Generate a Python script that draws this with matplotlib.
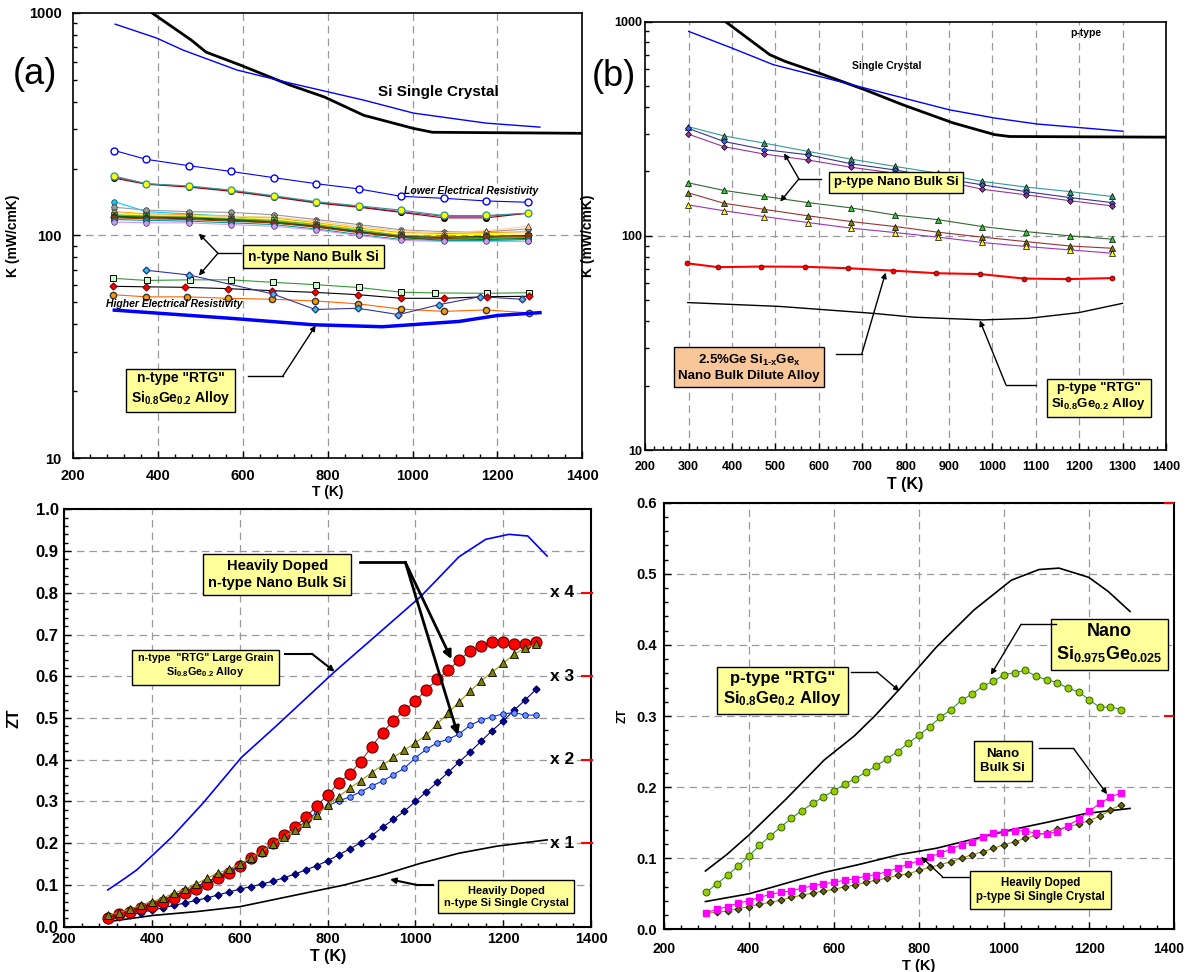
import matplotlib
matplotlib.use('Agg')
import matplotlib.pyplot as plt
import matplotlib.transforms as mtransforms
from matplotlib.ticker import FixedLocator, FixedFormatter, MultipleLocator, LogLocator, NullFormatter

plt.rcParams['font.family'] = 'Liberation Sans'
plt.rcParams['font.weight'] = 'bold'
plt.rcParams['axes.labelweight'] = 'bold'
plt.rcParams['mathtext.fontset'] = 'custom'
plt.rcParams['mathtext.bf'] = 'Liberation Sans:bold'
plt.rcParams['mathtext.rm'] = 'Liberation Sans:bold'
plt.rcParams['mathtext.default'] = 'bf'

# ---------------- panel (a): n-type thermal conductivity ----------------
a_sc_black_T = [387, 479, 514, 595, 712, 793, 885, 1002, 1047, 1400]
a_sc_black_K = [1000, 756, 667, 583, 474, 419, 347, 303, 291, 288]
a_sc_blue_T = [300, 398, 460, 587, 712, 885, 1002, 1173, 1300]
a_sc_blue_K = [891, 771, 681, 554, 484, 406, 355, 320, 307]

a_T = [298, 373, 473, 573, 673, 773, 873, 973, 1073, 1173, 1273]
a_open_K = [241, 220, 206, 194, 182, 171, 162, 150, 147, 143, 141]
a_yel_K = [185, 171, 167, 160, 151, 142, 136, 130, 123, 123, 126]
a_dred_K = [181, 170, 165, 158, 149, 140, 134, 127, 120, 120, 126]
a_mag_K = [183, 171, 166, 159, 150, 141, 135, 128, 122, 122, 126]
a_cluster_K = [
    [142, 128, 125, 122, 116, 110, 104, 98, 96, 95, 94],
    [134, 130, 128, 127, 124, 118, 112, 106, 104, 104, 107],
    [128, 125, 124, 122, 120, 114, 108, 103, 102, 103, 104],
    [127, 124, 123, 122, 121, 116, 110, 105, 103, 105, 110],
    [126, 123, 122, 120, 118, 113, 107, 102, 101, 101, 102],
    [124, 122, 121, 119, 117, 112, 106, 100, 97, 97, 98],
    [123, 122, 121, 118, 116, 111, 105, 100, 99, 99, 100],
    [122, 121, 120, 118, 115, 110, 104, 98, 95, 96, 97],
    [121, 120, 119, 117, 114, 110, 104, 99, 98, 99, 100],
    [120, 119, 118, 116, 114, 109, 103, 98, 97, 98, 99],
    [118, 117, 116, 114, 112, 107, 101, 96, 95, 95, 96],
    [115, 114, 114, 112, 110, 106, 100, 95, 94, 94, 94],
]
a_cluster_col = ['#00CCFF', '#999999', '#FF9900', '#FFCC99', '#FFFF00', '#33CC33',
                 '#999900', '#006600', '#333333', '#993300', '#009999', '#CC99FF']
a_cluster_mk = ['o', 'o', 'x', '^', 'o', 's', '^', 'o', 'D', 's', 'o', 'o']

a_sq_T = [295, 376, 475, 572, 671, 773, 873, 974, 1052, 1175, 1275]
a_sq_K = [64.2, 62.8, 63.2, 63.2, 61.6, 60.1, 58.4, 55.6, 55.2, 55.0, 55.3]
a_rd_T = [295, 373, 464, 566, 669, 771, 872, 974, 1074, 1175, 1275]
a_rd_K = [59.1, 58.8, 58.5, 57.7, 56.5, 55.5, 54.2, 52.2, 52.2, 53.1, 53.3]
a_or_T = [295, 373, 470, 566, 670, 771, 872, 973, 1073, 1174, 1274]
a_or_K = [54.2, 53.0, 53.0, 52.2, 51.7, 50.8, 49.3, 46.7, 45.6, 46.3, 44.9]
a_cy_T = [373, 473, 671, 771, 872, 967, 1063, 1159, 1257]
a_cy_K = [69.8, 66.5, 54.6, 46.5, 47.1, 44.1, 48.9, 53.1, 51.7]
a_rtg_T = [298, 568, 767, 929, 1110, 1200, 1300]
a_rtg_K = [46.2, 42.5, 39.7, 38.9, 41.1, 43.7, 45.0]

# ---------------- panel (b): p-type thermal conductivity ----------------
b_sc_black_T = [385, 487, 522, 601, 706, 794, 909, 1005, 1040, 1400]
b_sc_black_K = [1000, 701, 653, 575, 481, 409, 337, 297, 291, 289]
b_sc_blue_T = [300, 399, 495, 706, 900, 1005, 1102, 1300]
b_sc_blue_K = [901, 754, 630, 490, 388, 355, 333, 308]
b_T = [298, 381, 474, 575, 675, 776, 875, 977, 1077, 1178, 1276]
b_teal_K = [324, 293, 271, 248, 228, 211, 196, 179.5, 169, 161, 152.7]
b_navy_K = [318, 276, 253, 239, 217, 203, 187, 173, 161, 151, 143]
b_purp_K = [299, 261, 241, 226, 209, 196, 183, 165, 155.5, 146, 138]
b_green_K = [177, 163, 153, 143, 135, 125, 119, 110.5, 104.7, 100, 96.5]
b_dred_K = [159, 142, 133, 124, 116.6, 110.5, 104, 98.6, 94, 89.7, 87.5]
b_yel_K = [139.6, 131, 123, 115.4, 108.6, 103.6, 98.6, 93.1, 89.2, 86, 83]
b_ge_T = [295, 368, 467, 567, 668, 771, 871, 972, 1072, 1174, 1275]
b_ge_K = [74.5, 71.4, 71.9, 71.7, 70.6, 68.8, 66.9, 66.3, 63.2, 62.8, 63.5]
b_rtg_T = [298, 511, 723, 820, 978, 1084, 1199, 1300]
b_rtg_K = [48.8, 46.8, 43.5, 41.7, 40.5, 41.2, 43.8, 48.4]

# ---------------- panel (c): n-type ZT ----------------
c_T = [300, 325, 350, 375, 400, 425, 450, 475, 500, 525, 550, 575, 600, 625, 650, 675,
       700, 725, 750, 775, 800, 825, 850, 875, 900, 925, 950, 975, 1000, 1025, 1050,
       1075, 1100, 1125, 1150, 1175, 1200, 1225, 1250, 1275]
c_red = [0.022, 0.030, 0.036, 0.044, 0.050, 0.058, 0.068, 0.080, 0.090, 0.102, 0.116,
         0.129, 0.145, 0.164, 0.182, 0.200, 0.220, 0.238, 0.262, 0.289, 0.316, 0.344,
         0.366, 0.395, 0.431, 0.465, 0.494, 0.518, 0.541, 0.567, 0.593, 0.615, 0.639,
         0.661, 0.673, 0.683, 0.683, 0.677, 0.677, 0.683]
c_tri = [0.028, 0.034, 0.042, 0.052, 0.060, 0.069, 0.080, 0.090, 0.102, 0.116, 0.128,
         0.138, 0.150, 0.165, 0.180, 0.198, 0.214, 0.232, 0.249, 0.268, 0.292, 0.311,
         0.332, 0.349, 0.369, 0.387, 0.406, 0.423, 0.441, 0.459, 0.486, 0.513, 0.539,
         0.565, 0.589, 0.610, 0.631, 0.653, 0.667, 0.677]
c_blue = [0.025, 0.032, 0.040, 0.048, 0.056, 0.065, 0.075, 0.085, 0.096, 0.108, 0.120,
          0.133, 0.146, 0.162, 0.178, 0.196, 0.214, 0.233, 0.252, 0.274, 0.290, 0.301,
          0.311, 0.323, 0.337, 0.349, 0.364, 0.380, 0.405, 0.425, 0.441, 0.449, 0.462,
          0.483, 0.495, 0.503, 0.510, 0.513, 0.507, 0.507]
c_navy = [0.016, 0.024, 0.028, 0.034, 0.040, 0.045, 0.051, 0.057, 0.063, 0.069, 0.076,
          0.083, 0.090, 0.096, 0.102, 0.109, 0.117, 0.126, 0.136, 0.146, 0.158, 0.172,
          0.186, 0.201, 0.218, 0.238, 0.257, 0.277, 0.300, 0.323, 0.346, 0.370, 0.395,
          0.419, 0.445, 0.470, 0.493, 0.519, 0.543, 0.569]
c_rtg_T = [299, 341, 365, 402, 446, 516, 603, 685, 816, 925, 1012, 1099, 1160, 1213, 1256, 1300]
c_rtg_ZT = [0.088, 0.118, 0.136, 0.172, 0.216, 0.296, 0.405, 0.483, 0.611, 0.711, 0.791,
            0.886, 0.928, 0.940, 0.936, 0.888]
c_sc_T = [299, 402, 500, 600, 751, 838, 925, 1012, 1099, 1186, 1300]
c_sc_ZT = [0.012, 0.027, 0.036, 0.048, 0.081, 0.100, 0.124, 0.152, 0.176, 0.193, 0.208]
c_mult_labels = ['x 4', 'x 3', 'x 2', 'x 1']
c_mult_ZT = [0.8, 0.6, 0.4, 0.2]

# ---------------- panel (d): p-type ZT ----------------
d_T = c_T
d_green = [0.052, 0.064, 0.076, 0.089, 0.103, 0.118, 0.131, 0.144, 0.156, 0.167, 0.177,
           0.186, 0.195, 0.204, 0.212, 0.221, 0.230, 0.240, 0.250, 0.262, 0.273, 0.285,
           0.298, 0.309, 0.322, 0.331, 0.342, 0.349, 0.358, 0.361, 0.364, 0.356, 0.351,
           0.347, 0.339, 0.334, 0.323, 0.312, 0.313, 0.309]
d_mag = [0.0235, 0.028, 0.032, 0.037, 0.040, 0.045, 0.049, 0.052, 0.054, 0.058, 0.061,
         0.064, 0.066, 0.069, 0.071, 0.075, 0.077, 0.081, 0.086, 0.092, 0.096, 0.102,
         0.107, 0.113, 0.119, 0.123, 0.130, 0.136, 0.1375, 0.1385, 0.1385, 0.135, 0.134,
         0.1375, 0.1455, 0.155, 0.166, 0.177, 0.186, 0.192]
d_dia = [0.0225, 0.024, 0.026, 0.029, 0.032, 0.035, 0.038, 0.041, 0.045, 0.048, 0.051,
         0.054, 0.056, 0.060, 0.062, 0.066, 0.069, 0.072, 0.076, 0.078, 0.083, 0.087,
         0.091, 0.095, 0.100, 0.105, 0.109, 0.114, 0.119, 0.123, 0.128, 0.132, 0.136,
         0.141, 0.144, 0.148, 0.153, 0.159, 0.168, 0.175]
d_rtg_T = [298, 348, 401, 489, 577, 648, 696, 753, 841, 929, 1017, 1082, 1129, 1199, 1245, 1296]
d_rtg_ZT = [0.082, 0.105, 0.133, 0.184, 0.238, 0.272, 0.300, 0.337, 0.397, 0.449, 0.491,
            0.506, 0.508, 0.495, 0.475, 0.447]
d_sc_T = [298, 401, 489, 577, 665, 753, 841, 929, 1017, 1105, 1193, 1296]
d_sc_ZT = [0.039, 0.050, 0.065, 0.080, 0.092, 0.105, 0.114, 0.127, 0.140, 0.151, 0.163, 0.170]

W, H = 1188, 972
fig = plt.figure(figsize=(W / 100, H / 100), dpi=100)


def px_axes(l, t, r, b):
    return fig.add_axes([l / W, 1 - b / H, (r - l) / W, (b - t) / H])


YEL = '#FFFF99'
GRID = dict(color='#9a9a9a', ls=(0, (6, 4)), lw=0.9)


def box(ax, x, y, s, fs, fc=YEL, pad=0.35):
    ax.text(x, y, s, ha='center', va='center', fontsize=fs, linespacing=1.25, zorder=6,
            bbox=dict(boxstyle='square,pad=%s' % pad, fc=fc, ec='k', lw=1))


def callout(ax, start, knee, tips, lw=1.0, ms=8):
    ax.plot([start[0], knee[0]], [start[1], knee[1]], color='k', lw=lw, zorder=6)
    for tip in tips:
        ax.annotate('', xy=tip, xytext=knee, zorder=6,
                    arrowprops=dict(arrowstyle='-|>', color='k', lw=lw, mutation_scale=ms,
                                    shrinkA=0, shrinkB=0))


def style_axes(ax, lw):
    for sp in ax.spines.values():
        sp.set_linewidth(lw)
    ax.tick_params(which='both', direction='in', width=1)
    ax.tick_params(which='major', length=5)
    ax.tick_params(which='minor', length=3)


def log_y(ax):
    ax.set_yscale('log')
    ax.set_ylim(10, 1000)
    ax.yaxis.set_major_locator(FixedLocator([10, 100, 1000]))
    ax.yaxis.set_major_formatter(FixedFormatter(['10', '100', '1000']))
    ax.yaxis.set_minor_locator(LogLocator(subs=range(2, 10)))
    ax.yaxis.set_minor_formatter(NullFormatter())
    ax.axhline(100, **GRID, zorder=0)


# ======================= (a) =======================
ax = px_axes(72.7, 13, 582.4, 458)
style_axes(ax, 1.2)
log_y(ax)
ax.set_xlim(200, 1400)
ax.xaxis.set_major_locator(MultipleLocator(200))
ax.xaxis.set_minor_locator(MultipleLocator(40))
for t in range(400, 1400, 200):
    ax.axvline(t, **GRID, zorder=0)
ax.tick_params(axis='x', labelsize=10.5, pad=8)
ax.tick_params(axis='y', labelsize=10.5, pad=8)
ax.set_xlabel('T (K)', fontsize=10, labelpad=1)
ax.set_ylabel('K (mW/cmK)', fontsize=10)
ax.yaxis.set_label_coords(-0.104, 0.5)

ax.plot(a_sc_black_T, a_sc_black_K, color='k', lw=2)
ax.plot(a_sc_blue_T, a_sc_blue_K, color='#0000FF', lw=1)
ax.plot(a_T, a_open_K, color='#0000FF', lw=0.8, marker='o', ms=5, mfc='white', mec='#0000FF')
ax.plot(a_T, a_mag_K, color='#993399', lw=0.8, marker='D', ms=3, mfc='#993399', mec='k')
ax.plot(a_T, a_dred_K, color='#990000', lw=0.8, marker='o', ms=4, mfc='#990000', mec='k')
ax.plot(a_T, a_yel_K, color='#339999', lw=0.8, marker='o', ms=5, mfc='#FFFF00', mec='#339999')
for ys, c, m in zip(a_cluster_K, a_cluster_col, a_cluster_mk):
    ax.plot(a_T, ys, color=c, lw=0.8, marker=m, ms=4, mfc=c, mec='#333333', mew=0.5)
ax.plot(a_sq_T, a_sq_K, color='#339933', lw=0.8, marker='s', ms=5, mfc='#CCFFCC', mec='k', mew=0.7)
ax.plot(a_rd_T, a_rd_K, color='k', lw=0.8, marker='D', ms=3.5, mfc='red', mec='#990000')
ax.plot(a_or_T, a_or_K, color='#FF6600', lw=0.8, marker='o', ms=4.5, mfc='#FF9900', mec='#333333')
ax.plot(a_cy_T, a_cy_K, color='#333399', lw=0.8, marker='D', ms=3.5, mfc='#33CCCC', mec='#333399')
ax.plot(a_rtg_T, a_rtg_K, color='#0000FF', lw=2.5)

ax.text(1060, 440, 'Si Single Crystal', ha='center', va='center', fontsize=11)
ax.text(1138, 158, 'Lower Electrical Resistivity', ha='center', va='center', fontsize=7.5, style='italic')
ax.text(439, 49.3, 'Higher Electrical Resistivity', ha='center', va='center', fontsize=7.5, style='italic')
box(ax, 767, 80.4, 'n-type Nano Bulk Si', 10)
callout(ax, (596, 83.2), (542, 83.2), [(497, 102), (497, 66.1)])
box(ax, 454, 20.4, 'n-type "RTG"\nSi$_{0.8}$Ge$_{0.2}$ Alloy', 10)
callout(ax, (612, 23.4), (695, 23.4), [(772, 39.4)])
fig.text(35 / W, 1 - 75 / H, '(a)', fontsize=26, fontweight='normal', ha='center', va='center')

# ======================= (b) =======================
ax = px_axes(645.3, 21.7, 1165.9, 450)
style_axes(ax, 1.2)
log_y(ax)
ax.set_xlim(200, 1400)
ax.xaxis.set_major_locator(MultipleLocator(100))
ax.xaxis.set_minor_locator(MultipleLocator(20))
for t in range(300, 1400, 100):
    ax.axvline(t, **GRID, zorder=0)
ax.tick_params(axis='x', labelsize=9, pad=8)
ax.tick_params(axis='y', labelsize=9, pad=2)
ax.set_xlabel('T (K)', fontsize=11.5, labelpad=3)
ax.set_ylabel('K (mW/cmK)', fontsize=10)
ax.yaxis.set_label_coords(-0.097, 0.5)

ax.plot(b_sc_black_T, b_sc_black_K, color='k', lw=2)
ax.plot(b_sc_blue_T, b_sc_blue_K, color='#0000FF', lw=1)
ax.plot(b_T, b_teal_K, color='#339999', lw=0.8, marker='^', ms=4.5, mfc='#339966', mec='k', mew=0.5)
ax.plot(b_T, b_navy_K, color='#333399', lw=0.8, marker='D', ms=3, mfc='#3366FF', mec='k', mew=0.5)
ax.plot(b_T, b_purp_K, color='#993399', lw=0.8, marker='D', ms=3, mfc='#993399', mec='k', mew=0.5)
ax.plot(b_T, b_green_K, color='#336633', lw=0.8, marker='^', ms=4.5, mfc='#33CC33', mec='k', mew=0.5)
ax.plot(b_T, b_dred_K, color='#993333', lw=0.8, marker='^', ms=4.5, mfc='#808000', mec='k', mew=0.5)
ax.plot(b_T, b_yel_K, color='#9933CC', lw=0.8, marker='^', ms=4.5, mfc='#FFFF00', mec='k', mew=0.5)
ax.plot(b_ge_T, b_ge_K, color='#FF0000', lw=1.5, marker='o', ms=3.5, mfc='red', mec='#660000', mew=0.6)
ax.plot(b_rtg_T, b_rtg_K, color='k', lw=1)

ax.text(756, 623, 'Single Crystal', ha='center', va='center', fontsize=7.5)
ax.text(1216, 883, 'p-type', ha='center', va='center', fontsize=7.5)
box(ax, 779, 177.8, 'p-type Nano Bulk Si', 9.5)
callout(ax, (604, 184.5), (554, 184.5), [(520, 243), (511, 144.5)])
box(ax, 439, 24.3, '2.5%Ge Si$_{1\\text{-}x}$Ge$_{x}$\nNano Bulk Dilute Alloy', 9.5, fc='#F9C69A')
callout(ax, (640, 28.1), (699, 28.1), [(754, 67.4)])
box(ax, 1245, 17.7, 'p-type "RTG"\nSi$_{0.8}$Ge$_{0.2}$ Alloy', 9.5)
callout(ax, (1100, 20.2), (1031, 20.2), [(971, 40.3)])
fig.text(614 / W, 1 - 76 / H, '(b)', fontsize=26, fontweight='normal', ha='center', va='center')

# ======================= (c) =======================
ax = px_axes(64.3, 509.3, 591, 926.7)
style_axes(ax, 1.5)
ax.set_xlim(200, 1400)
ax.set_ylim(0, 1.0)
ax.xaxis.set_major_locator(MultipleLocator(200))
ax.xaxis.set_minor_locator(MultipleLocator(40))
ax.yaxis.set_major_locator(MultipleLocator(0.1))
ax.yaxis.set_minor_locator(MultipleLocator(0.02))
ax.yaxis.set_major_formatter(plt.FormatStrFormatter('%.1f'))
ax.grid(True, which='major', **GRID, zorder=0)
ax.tick_params(axis='x', labelsize=10.5, pad=4)
ax.tick_params(axis='y', labelsize=12, pad=4)
ax.set_xlabel('T (K)', fontsize=11.5, labelpad=2)
ax.set_ylabel('ZT', fontsize=11.5)
ax.yaxis.set_label_coords(-0.082, 0.5)

ax.plot(c_rtg_T, c_rtg_ZT, color='#0000FF', lw=1.2)
ax.plot(c_sc_T, c_sc_ZT, color='k', lw=1.2)
ax.plot(c_T, c_navy, color='#000080', lw=0.8, marker='D', ms=3.5, mfc='#000099', mec='#000066')
ax.plot(c_T, c_blue, color='#0033FF', lw=0.8, marker='o', ms=4, mfc='#6699FF', mec='#000099', mew=0.6)
ax.plot(c_T, c_red, color='#993333', lw=0.8, marker='o', ms=8, mfc='red', mec='#660000', mew=0.8)
ax.plot(c_T, c_tri, color='#999900', lw=0.8, marker='^', ms=5.5, mfc='#808000', mec='k', mew=0.6)

for lab, z in zip(c_mult_labels, c_mult_ZT):
    ax.text(1335, z, lab, ha='center', va='center', fontsize=12.5)
    ax.plot([1380, 1403], [z, z], color='red', lw=1.5, clip_on=False, zorder=7)

box(ax, 685, 0.844, 'Heavily Doped\nn-type Nano Bulk Si', 10.5)
callout(ax, (873, 0.873), (977, 0.873), [(1082, 0.641), (1097, 0.459)], lw=2, ms=12)
box(ax, 522, 0.624, 'n-type  "RTG" Large Grain\nSi$_{0.8}$Ge$_{0.2}$ Alloy', 7.8, pad=0.5)
callout(ax, (703, 0.654), (764, 0.654), [(816, 0.611)], lw=1.5)
box(ax, 1207, 0.072, 'Heavily Doped\nn-type Si Single Crystal', 8, pad=0.5)
callout(ax, (1041, 0.100), (1003, 0.100), [(942, 0.1135)], lw=1.5)

# ======================= (d) =======================
ax = px_axes(663.7, 502.7, 1174.3, 929.3)
style_axes(ax, 1.5)
ax.set_xlim(200, 1400)
ax.set_ylim(0, 0.6)
ax.xaxis.set_major_locator(MultipleLocator(200))
ax.xaxis.set_minor_locator(MultipleLocator(40))
ax.yaxis.set_major_locator(MultipleLocator(0.1))
ax.yaxis.set_minor_locator(MultipleLocator(0.02))
ax.yaxis.set_major_formatter(plt.FormatStrFormatter('%.1f'))
ax.grid(True, which='major', **GRID, zorder=0)
ax.tick_params(axis='x', labelsize=10, pad=9)
ax.tick_params(axis='y', labelsize=10.5, pad=5)
ax.set_xlabel('T (K)', fontsize=10.5, labelpad=2)
ax.set_ylabel('ZT', fontsize=8.5)
ax.yaxis.set_label_coords(-0.069, 0.5)
fig.canvas.draw()
shift = mtransforms.ScaledTranslation(-6 / 100, 0, fig.dpi_scale_trans)
for lab in ax.get_xticklabels():
    if lab.get_text() == '1400':
        lab.set_transform(lab.get_transform() + shift)

ax.plot(d_rtg_T, d_rtg_ZT, color='k', lw=1.2)
ax.plot(d_sc_T, d_sc_ZT, color='k', lw=1.2)
ax.plot(d_T, d_green, color='#339933', lw=0.8, marker='o', ms=5, mfc='#99CC00', mec='#336600', mew=0.7)
ax.plot(d_T, d_dia, color='#999900', lw=0.8, marker='D', ms=3.5, mfc='#666600', mec='k', mew=0.6)
ax.plot(d_T, d_mag, color='#FF00FF', lw=0.8, marker='s', ms=4, mfc='#FF00FF', mec='#FF00FF')
for z in [0.6, 0.3]:
    ax.plot([1377, 1396], [z, z], color='red', lw=1.5, clip_on=False, zorder=7)

box(ax, 1248, 0.4015, 'Nano\nSi$_{0.975}$Ge$_{0.025}$', 13, pad=0.3)
callout(ax, (1121, 0.429), (1040, 0.429), [(969, 0.358)])
box(ax, 479, 0.337, 'p-type "RTG"\nSi$_{0.8}$Ge$_{0.2}$ Alloy', 12, pad=0.35)
callout(ax, (640, 0.362), (701, 0.362), [(754, 0.335)])
box(ax, 997, 0.237, 'Nano\nBulk Si', 9.5, pad=0.5)
callout(ax, (1081, 0.2545), (1163, 0.2545), [(1242, 0.190)])
box(ax, 1086, 0.0555, 'Heavily Doped\np-type Si Single Crystal', 8.3, pad=0.5)
callout(ax, (918, 0.074), (855, 0.074), [(805, 0.102)])

fig.savefig('out.png', dpi=100)
